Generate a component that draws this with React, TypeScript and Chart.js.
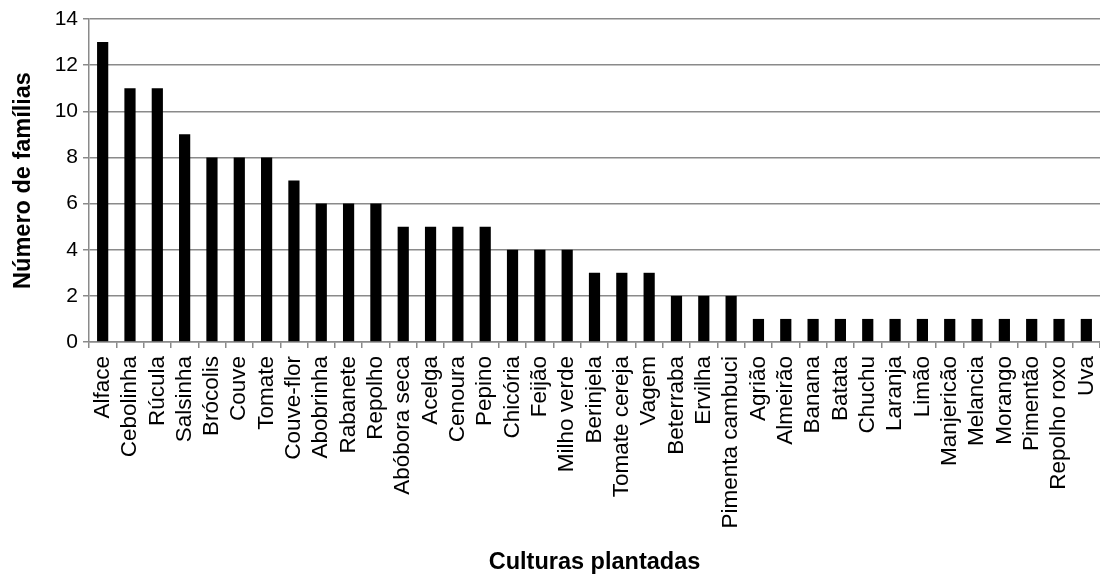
import { useEffect, useRef } from "react";
import { Chart, registerables } from "chart.js";

Chart.register(...registerables);

// Culturas cultivadas e número de famílias que plantam cada uma
const culturas = [
  "Alface", "Cebolinha", "Rúcula", "Salsinha", "Brócolis", "Couve", "Tomate",
  "Couve-flor", "Abobrinha", "Rabanete", "Repolho", "Abóbora seca", "Acelga",
  "Cenoura", "Pepino", "Chicória", "Feijão", "Milho verde", "Berinjela",
  "Tomate cereja", "Vagem", "Beterraba", "Ervilha", "Pimenta cambuci", "Agrião",
  "Almeirão", "Banana", "Batata", "Chuchu", "Laranja", "Limão", "Manjericão",
  "Melancia", "Morango", "Pimentão", "Repolho roxo", "Uva",
];

const familias = [
  13, 11, 11, 9, 8, 8, 8,
  7, 6, 6, 6, 5, 5,
  5, 5, 4, 4, 4, 3,
  3, 3, 2, 2, 2, 1,
  1, 1, 1, 1, 1, 1, 1,
  1, 1, 1, 1, 1,
];

const yMin = 0;
const yMax = 14;
const yStep = 2;

const eixoTitulo = "Culturas plantadas";
const eixoYTitulo = "Número de famílias";

const GRAY = "#8a8a8a";
const FONT = "'Liberation Sans', Arial, sans-serif";

export default function App() {
  const ref = useRef<HTMLCanvasElement>(null);

  useEffect(() => {
    const chart = new Chart(ref.current!, {
      type: "bar",
      data: {
        labels: culturas,
        datasets: [
          {
            data: familias,
            backgroundColor: "#000000",
            barPercentage: 0.41,
            categoryPercentage: 1,
          },
        ],
      },
      options: {
        animation: false,
        responsive: false,
        layout: { padding: { left: 0, right: 0, top: 19, bottom: 0 } },
        plugins: {
          legend: { display: false },
          tooltip: { enabled: false },
        },
        scales: {
          x: {
            grid: {
              drawOnChartArea: false,
              offset: true,
              tickLength: 6,
              color: GRAY,
              lineWidth: 1.5,
            },
            border: { color: GRAY, width: 1.5 },
            ticks: {
              minRotation: 90,
              maxRotation: 90,
              autoSkip: false,
              color: "#000",
              padding: 8,
              font: { family: FONT, size: 22.5 },
            },
            title: {
              display: true,
              text: eixoTitulo,
              color: "#000",
              padding: { top: 0, bottom: 0 },
              font: { family: FONT, size: 23.5, weight: "bold" },
            },
            afterFit: (s: any) => {
              s.height = 577 - 342;
              // the plot runs to the right edge of the canvas
              s.paddingRight = 0;
              s.paddingLeft = 0;
            },
          },
          y: {
            min: yMin,
            max: yMax,
            grid: { color: GRAY, tickLength: 6, lineWidth: 1.5 },
            border: { color: GRAY, width: 1.5 },
            ticks: {
              stepSize: yStep,
              color: "#000",
              padding: 5,
              font: { family: FONT, size: 21 },
            },
            title: {
              display: true,
              text: eixoYTitulo,
              color: "#000",
              padding: { top: 9, bottom: 0 },
              font: { family: FONT, size: 23.5, weight: "bold" },
            },
            afterFit: (s: any) => {
              s.width = 89;
            },
          },
        },
      },
    });
    return () => chart.destroy();
  }, []);

  return (
    <div style={{ position: "fixed", left: 0, top: 0, width: 1100, height: 577, background: "#fff" }}>
      <canvas ref={ref} width={1100} height={577} style={{ display: "block" }} />
    </div>
  );
}
